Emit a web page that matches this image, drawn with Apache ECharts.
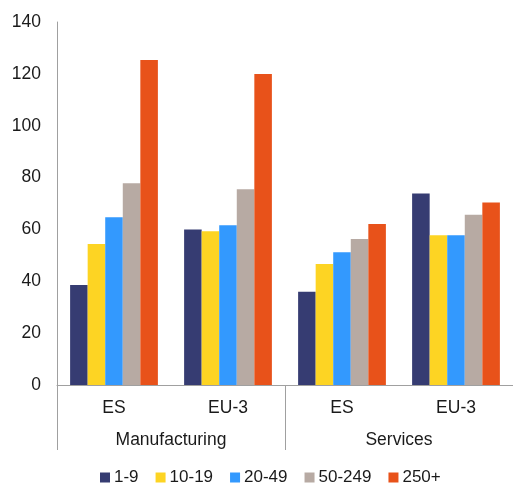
<!DOCTYPE html>
<html>
<head>
<meta charset="utf-8">
<script src="https://cdn.jsdelivr.net/npm/echarts@6/dist/echarts.min.js"></script>
<style>
html,body{margin:0;padding:0;background:#fff;}
#chart{width:513px;height:488px;}
</style>
</head>
<body>
<div id="chart"></div>
<script>
var categories = ['ES', 'EU-3', 'ES', 'EU-3'];
var groups = ['Manufacturing', 'Services'];
var seriesNames = ['1-9', '10-19', '20-49', '50-249', '250+'];
var s1_9 = [38.6, 60.0, 36.0, 73.9];
var s10_19 = [54.4, 59.3, 46.7, 57.8];
var s20_49 = [64.7, 61.6, 51.2, 57.8];
var s50_249 = [77.8, 75.5, 56.3, 65.7];
var s250 = [125.3, 119.9, 62.1, 70.4];
var yTicks = [0, 20, 40, 60, 80, 100, 120, 140];

var colors = ['#363C72', '#FDD423', '#3399FE', '#B7AAA3', '#E8521A'];
var values = [s1_9, s10_19, s20_49, s50_249, s250];
var font = 'Liberation Sans, Arial, sans-serif';
var txt = '#1a1a1a';

var chart = echarts.init(document.getElementById('chart'), null, {renderer: 'canvas'});
var series = seriesNames.map(function (n, i) {
  return {
    name: n,
    type: 'bar',
    xAxisIndex: 0,
    data: values[i],
    barGap: '0%',
    barCategoryGap: '23%',
    itemStyle: {color: colors[i]},
    emphasis: {disabled: true}
  };
});

chart.setOption({
  animation: false,
  color: colors,
  grid: {left: 57, right: 0, top: 22, bottom: 103, containLabel: false},
  legend: {
    data: seriesNames,
    top: 469,
    left: 100,
    itemWidth: 10,
    itemHeight: 10,
    itemGap: 17,
    icon: 'rect',
    padding: 0,
    textStyle: {fontFamily: font, fontSize: 17, color: txt, padding: [0, 0, 0, -1]}
  },
  xAxis: [
    {
      type: 'category',
      data: categories,
      position: 'bottom',
      axisLine: {show: true, lineStyle: {color: '#a0a0a0', width: 1}},
      axisTick: {show: false},
      axisLabel: {fontFamily: font, fontSize: 17.5, color: txt, margin: 14}
    },
    {
      type: 'category',
      data: groups,
      position: 'bottom',
      axisLine: {show: false},
      axisTick: {show: true, length: 65, lineStyle: {color: '#a0a0a0', width: 1}},
      axisLabel: {fontFamily: font, fontSize: 17.5, color: txt, margin: 46}
    }
  ],
  yAxis: {
    type: 'value',
    min: yTicks[0],
    max: yTicks[yTicks.length - 1],
    interval: 20,
    axisLine: {show: true, lineStyle: {color: '#a0a0a0', width: 1}},
    axisTick: {show: false},
    splitLine: {show: false},
    axisLabel: {fontFamily: font, fontSize: 17.5, color: txt, margin: 16}
  },
  series: series
});
</script>
</body>
</html>
